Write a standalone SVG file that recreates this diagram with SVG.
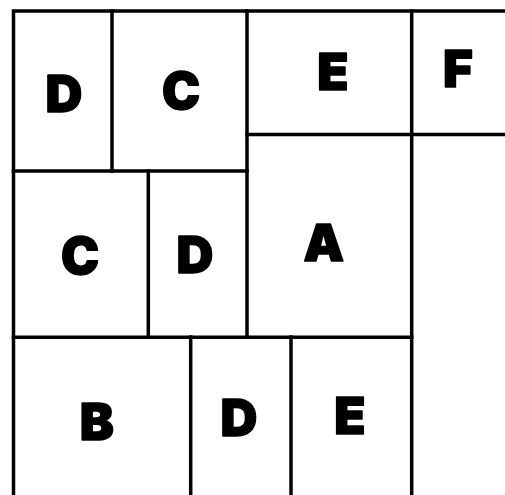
<svg xmlns="http://www.w3.org/2000/svg" width="505" height="495" viewBox="0 0 505 495">
<style>
  .ln { stroke: #000; stroke-width: 3.5; fill: none; stroke-linecap: square; }
  .lb { font-family: "Inter", "Lato", "Liberation Sans", sans-serif; font-weight: 900; font-size: 51px; fill: #000; stroke: #000; stroke-width: 1.5; stroke-linejoin: round; text-anchor: middle; }
</style>
<rect width="505" height="495" fill="#fff"/>
<g id="connectors">
  <path class="ln" d="M13.5,495 V11 H505"/>
  <path class="ln" d="M411.7,11 V495"/>
  <path class="ln" d="M247,11 V337"/>
  <path class="ln" d="M112,11 V171"/>
  <path class="ln" d="M247,134.5 H505"/>
  <path class="ln" d="M13.5,171 H247"/>
  <path class="ln" d="M148.3,171 V337"/>
  <path class="ln" d="M13.5,337.3 H411.7"/>
  <path class="ln" d="M190.7,337 V495"/>
  <path class="ln" d="M291,337 V495"/>
</g>
<g id="n1"><text class="lb" x="64" y="112">D</text></g>
<g id="n2"><text class="lb" x="181" y="109">C</text></g>
<g id="n3"><text class="lb" x="333" y="90">E</text></g>
<g id="n4"><text class="lb" x="458" y="86.7">F</text></g>
<g id="n5"><text class="lb" x="80" y="274">C</text></g>
<g id="n6"><text class="lb" x="195" y="273">D</text></g>
<g id="n7"><text class="lb" x="323.7" y="261">A</text></g>
<g id="n8"><text class="lb" x="96.7" y="440">B</text></g>
<g id="n9"><text class="lb" x="239" y="436">D</text></g>
<g id="n10"><text class="lb" x="350" y="434">E</text></g>
</svg>
